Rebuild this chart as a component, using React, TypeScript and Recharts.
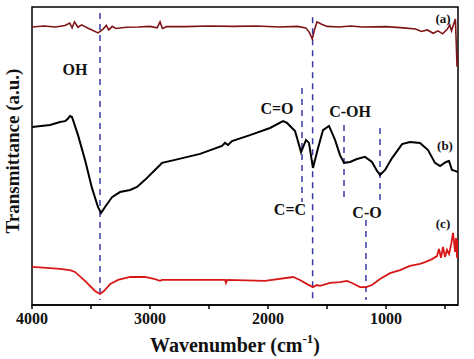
import React from "react";
import {
  ComposedChart,
  Line,
  XAxis,
  YAxis,
  ReferenceLine,
  ReferenceArea,
  ReferenceDot,
} from "recharts";

// wavenumber (cm-1) and transmittance (a.u., 0-100 across the plot)
const spectrumA = [
  [4000, 93.3], [3900, 93.6], [3800, 93.3], [3720, 93.8], [3680, 94.6], [3660, 93.0],
  [3640, 95.0], [3610, 93.2], [3580, 94.0], [3520, 92.8], [3440, 91.3], [3400, 92.5],
  [3370, 93.8], [3350, 92.3], [3320, 93.5], [3290, 92.8], [3200, 93.2], [3100, 93.3],
  [3000, 93.5], [2940, 93.0], [2915, 95.0], [2895, 92.8], [2860, 93.4], [2700, 93.4],
  [2500, 93.6], [2300, 93.5], [2100, 93.6], [1900, 93.3], [1750, 93.5], [1680, 93.0],
  [1650, 91.5], [1625, 89.3], [1605, 92.5], [1585, 95.0], [1550, 94.3], [1500, 93.5],
  [1400, 93.3], [1300, 93.6], [1200, 93.3], [1000, 93.4], [850, 93.0], [750, 92.6],
  [700, 91.8], [650, 92.3], [600, 91.2], [560, 92.0], [520, 91.0], [480, 92.6],
  [460, 94.0], [445, 92.0], [425, 94.5], [412, 96.0], [405, 88.0], [398, 80.0], [394, 84.0],
];

const spectrumB = [
  [4000, 59.7], [3847, 60.4], [3763, 61.4], [3720, 61.7], [3700, 62.3], [3678, 63.4],
  [3661, 63.1], [3610, 57.0], [3551, 48.7], [3492, 39.3], [3441, 32.9], [3415, 30.9],
  [3381, 32.9], [3322, 36.2], [3254, 37.9], [3169, 38.6], [3110, 39.6], [3042, 42.0],
  [2958, 45.3], [2915, 47.0], [2898, 47.7], [2788, 48.7], [2576, 50.7], [2390, 53.4],
  [2364, 54.4], [2339, 53.7], [2305, 55.0], [2153, 57.0], [1983, 59.4], [1873, 61.7],
  [1839, 61.1], [1771, 58.4], [1720, 51.3], [1678, 55.4], [1653, 54.4], [1619, 46.0],
  [1576, 52.7], [1534, 58.7], [1483, 60.1], [1432, 55.4], [1390, 50.3], [1356, 47.7],
  [1305, 48.0], [1246, 49.0], [1178, 49.7], [1119, 48.0], [1076, 45.0], [1051, 43.6],
  [1008, 45.3], [949, 49.3], [864, 54.0], [797, 54.7], [712, 54.4], [644, 52.0],
  [585, 47.7], [542, 46.6], [492, 48.0], [466, 48.3], [441, 45.3], [415, 45.0], [390, 44.6],
];

const spectrumC = [
  [4000, 12.8], [3847, 12.4], [3763, 12.1], [3678, 11.7], [3636, 11.1], [3551, 8.1],
  [3466, 4.7], [3424, 3.7], [3390, 4.7], [3339, 7.0], [3271, 8.4], [3169, 9.4],
  [3042, 9.4], [2958, 8.7], [2915, 8.1], [2898, 8.4], [2661, 8.4], [2364, 8.4],
  [2356, 7.4], [2347, 8.4], [2025, 8.1], [1788, 9.4], [1729, 8.4], [1669, 7.0],
  [1619, 6.0], [1585, 6.7], [1559, 6.4], [1475, 7.4], [1390, 7.7], [1331, 8.1],
  [1288, 7.4], [1220, 6.0], [1169, 6.0], [1119, 6.7], [1051, 8.7], [966, 10.7],
  [881, 11.7], [797, 13.1], [712, 13.8], [669, 14.4], [610, 15.4], [568, 16.4],
  [551, 18.8], [534, 15.8], [517, 19.5], [500, 16.1], [483, 18.5], [466, 17.1],
  [449, 20.1], [432, 24.2], [415, 17.8], [407, 22.5], [398, 15.8], [390, 21.8],
];

// band markers: wavenumber, from, to
const bandLines = [
  [3424, 98.0, 1.7],
  [1712, 72.8, 34.6],
  [1622, 96.6, 1.0],
  [1356, 60.4, 35.2],
  [1051, 59.4, 33.6],
  [1170, 28.5, 1.7],
];

const bandLabels = [
  { text: "OH", w: 3636, t: 78.9 },
  { text: "C=O", w: 1924, t: 65.8 },
  { text: "C-OH", w: 1305, t: 65.1 },
  { text: "C=C", w: 1814, t: 31.9 },
  { text: "C-O", w: 1161, t: 30.9 },
];

const curveLabels = [
  { text: "(a)", w: 517, t: 96.3 },
  { text: "(b)", w: 500, t: 53.4 },
  { text: "(c)", w: 517, t: 27.2 },
];

const xTicks = [4000, 3500, 3000, 2500, 2000, 1500, 1000, 500];

const toRows = (pts: number[][]) => pts.map(([w, t]) => ({ w, t }));

const FONT = "'Liberation Serif', 'Times New Roman', serif";

const textShape = (text: string, size: number) => (p: any) => (
  <text
    x={p.cx}
    y={p.cy}
    textAnchor="middle"
    dominantBaseline="central"
    fontFamily={FONT}
    fontWeight="bold"
    fontSize={size}
    fill="#111"
  >
    {text}
  </text>
);

const XTitle = () => (
  <text
    x={235}
    y={345}
    textAnchor="middle"
    dominantBaseline="central"
    fontFamily={FONT}
    fontWeight="bold"
    fontSize={20}
    fill="#111"
  >
    Wavenumber (cm
    <tspan dy={-7} fontSize={13}>-1</tspan>
    <tspan dy={7}>)</tspan>
  </text>
);

export default function App() {
  return (
    <div style={{ position: "absolute", left: 0, top: 0, background: "#fff" }}>
      <ComposedChart
        width={474}
        height={359}
        margin={{ top: 7, right: 16, bottom: 0, left: 32 }}
      >
        <XAxis
          type="number"
          dataKey="w"
          domain={[390, 4000]}
          reversed
          allowDataOverflow
          ticks={xTicks}
          tickFormatter={(v: number) => (v % 1000 === 0 ? String(v) : "")}
          tickSize={4}
          tickMargin={4}
          height={54}
          axisLine={{ stroke: "#000", strokeWidth: 1.5 }}
          tickLine={{ stroke: "#000", strokeWidth: 1.5 }}
          tick={{ fill: "#111", fontSize: 16, fontWeight: "bold", fontFamily: FONT }}
          label={<XTitle />}
        />
        <YAxis type="number" dataKey="t" domain={[0, 100]} allowDataOverflow hide />
        <ReferenceArea
          x1={4000}
          x2={390}
          y1={0}
          y2={100}
          fill="none"
          stroke="#000"
          strokeWidth={1.5}
          ifOverflow="visible"
        />
        {bandLines.map(([w, y1, y2], i) => (
          <ReferenceLine
            key={"bl" + i}
            segment={[{ x: w, y: y1 }, { x: w, y: y2 }]}
            stroke="#3a3aa6"
            strokeWidth={1.5}
            strokeDasharray="6 5"
            ifOverflow="visible"
          />
        ))}
        <Line
          data={toRows(spectrumA)}
          dataKey="t"
          stroke="#7d1418"
          strokeWidth={1.6}
          dot={false}
          isAnimationActive={false}
        />
        <Line
          data={toRows(spectrumB)}
          dataKey="t"
          stroke="#000"
          strokeWidth={2}
          dot={false}
          isAnimationActive={false}
        />
        <Line
          data={toRows(spectrumC)}
          dataKey="t"
          stroke="#d81818"
          strokeWidth={1.8}
          dot={false}
          isAnimationActive={false}
        />
        {bandLabels.map((l) => (
          <ReferenceDot
            key={l.text}
            x={l.w}
            y={l.t}
            r={0}
            ifOverflow="visible"
            shape={textShape(l.text, 16)}
          />
        ))}
        {curveLabels.map((l) => (
          <ReferenceDot
            key={l.text}
            x={l.w}
            y={l.t}
            r={0}
            ifOverflow="visible"
            shape={textShape(l.text, 13)}
          />
        ))}
      </ComposedChart>
      <div
        style={{
          position: "absolute",
          left: 13,
          top: 151,
          transform: "translate(-50%, -50%) rotate(-90deg)",
          whiteSpace: "nowrap",
          fontFamily: FONT,
          fontWeight: "bold",
          fontSize: 19,
          color: "#111",
        }}
      >
        Transmittance (a.u.)
      </div>
    </div>
  );
}
